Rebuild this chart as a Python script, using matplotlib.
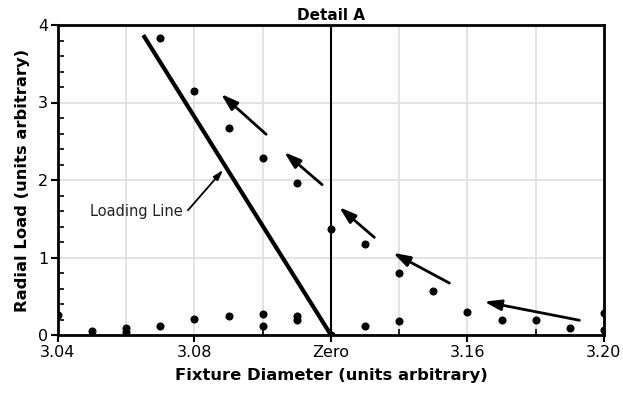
import matplotlib.pyplot as plt
from matplotlib.ticker import MultipleLocator

# measured points, upper (unloading) branch
upper_x = [3.070, 3.080, 3.090, 3.100, 3.110, 3.120, 3.130, 3.140, 3.150,
           3.160, 3.170, 3.180, 3.190, 3.200]
upper_y = [3.83, 3.15, 2.67, 2.28, 1.96, 1.37, 1.17, 0.80, 0.57,
           0.30, 0.19, 0.19, 0.09, 0.28]

# measured points, lower branch near the baseline
lower_x = [3.040, 3.050, 3.060, 3.060, 3.070, 3.080, 3.090, 3.100, 3.100,
           3.110, 3.110, 3.120, 3.130, 3.140, 3.200]
lower_y = [0.26, 0.05, 0.09, 0.04, 0.11, 0.21, 0.24, 0.27, 0.11,
           0.25, 0.19, 0.00, 0.11, 0.18, 0.06]

# loading line end points
load_x = [3.065, 3.120]
load_y = [3.87, 0.0]

# direction arrows (tail -> head)
arrow_tails = [(3.101, 2.59), (3.1174, 1.94), (3.1327, 1.26), (3.1547, 0.67), (3.1928, 0.19)]
arrow_heads = [(3.0878, 3.11), (3.1063, 2.36), (3.1224, 1.65), (3.1382, 1.06), (3.1649, 0.43)]

x_ticks = [3.04, 3.08, 3.12, 3.16, 3.20]
x_tick_labels = ["3.04", "3.08", "Zero", "3.16", "3.20"]
y_ticks = [0, 1, 2, 3, 4]

fig = plt.figure(figsize=(6.23, 4.0), dpi=100)
ax = fig.add_axes([0.093, 0.1625, 0.8765, 0.775])

ax.set_xlim(3.04, 3.20)
ax.set_ylim(0, 4)

# grid
for gx in [3.06, 3.08, 3.10, 3.14, 3.16, 3.18]:
    ax.axvline(gx, color="#e0e0e0", lw=1.3, zorder=0)
for gy in [1, 2, 3]:
    ax.axhline(gy, color="#e0e0e0", lw=1.3, zorder=0)

ax.axvline(3.12, color="black", lw=1.5, zorder=2)

ax.plot(load_x, load_y, color="black", lw=3, solid_capstyle="butt", zorder=3)

ax.plot(upper_x, upper_y, "o", color="black", ms=4.8, clip_on=True, zorder=4)
ax.plot(lower_x, lower_y, "o", color="black", ms=4.8, clip_on=True, zorder=4)

for (tx, ty), (hx, hy) in zip(arrow_tails, arrow_heads):
    ax.annotate("", xy=(hx, hy), xytext=(tx, ty),
                arrowprops=dict(arrowstyle="-|>,head_length=1.0,head_width=0.32",
                                color="black", lw=2, shrinkA=0, shrinkB=0))

ax.annotate("", xy=(3.0884, 2.13), xytext=(3.0781, 1.61),
            arrowprops=dict(arrowstyle="-|>,head_length=0.6,head_width=0.18",
                            color="black", lw=1.3, shrinkA=0, shrinkB=0))
ax.text(3.0767, 1.59, "Loading Line", ha="right", va="center", fontsize=10.5, color="#222222")

ax.set_xticks(x_ticks)
ax.set_xticklabels(x_tick_labels)
ax.set_yticks(y_ticks)
ax.xaxis.set_minor_locator(MultipleLocator(0.02))
ax.yaxis.set_minor_locator(MultipleLocator(0.2))
ax.tick_params(axis="both", which="major", direction="out", length=5, width=1.5,
               labelsize=11.5, pad=2)
ax.tick_params(axis="both", which="minor", direction="in", length=4, width=1.2)

for side in ["top", "bottom", "left", "right"]:
    ax.spines[side].set_linewidth(2)

ax.set_xlabel("Fixture Diameter (units arbitrary)", fontsize=11.8, fontweight="bold", labelpad=6)
ax.set_ylabel("Radial Load (units arbitrary)", fontsize=11.8, fontweight="bold", labelpad=6)
ax.text(3.12, 4.03, "Detail A", ha="center", va="bottom", fontsize=11, fontweight="bold")

fig.savefig("out.png", dpi=100)
